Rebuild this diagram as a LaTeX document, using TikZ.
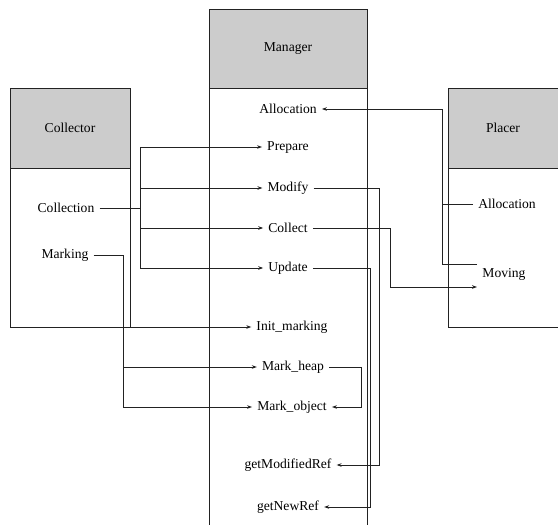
\documentclass[tikz,border=0pt]{standalone}
\usepackage{fontspec}
\setmainfont{Liberation Serif}
\newfontfamily\lblfont{Liberation Serif}
\usetikzlibrary{arrows.meta}

\definecolor{hdrgray}{HTML}{CCCCCC}
\definecolor{linegray}{HTML}{222222}

\begin{document}
\begin{tikzpicture}[x=1pt,y=-1pt,
    ln/.style={draw=linegray,line width=0.9pt},
    lbl/.style={font=\lblfont\fontsize{13.6}{15}\selectfont,inner xsep=5pt,inner ysep=1pt},
    arr/.style={ln,-{Stealth[length=5pt,width=3.6pt]}}]
    \useasboundingbox (0,0) rectangle (558,525);
    % Manager
    \draw[ln,fill=hdrgray] (209,9) rectangle (367,88);
    \draw[ln] (209,88) -- (209,525);
    \draw[ln] (367,88) -- (367,525);
    \node[lbl] (mgr) at (288,49) {Manager};
    % Collector
    \draw[ln,fill=hdrgray] (10,88) rectangle (130,168);
    \draw[ln] (10,168) -- (10,327);
    \draw[ln] (130,168) -- (130,327);
    \coordinate (colcorner) at (10,327);
    \node[lbl] (col) at (70,128) {Collector};
    % Placer
    \fill[hdrgray] (448,88) rectangle (560,168);
    \draw[ln] (560,88) -- (448,88) -- (448,327) -- (560,327);
    \draw[ln] (448,168) -- (560,168);
    \node[lbl] (plc) at (503,128) {Placer};

    \node[lbl] (collection) at (66,208) {Collection};
    \node[lbl] (marking) at (65,255) {Marking};
    \node[lbl] (palloc) at (507,204) {Allocation};
    \node[lbl] (moving) at (504,274) {Moving};

    \node[lbl] (malloc) at (288,109) {Allocation};
    \node[lbl] (prepare) at (288,147) {Prepare};
    \node[lbl] (modify) at (288,188) {Modify};
    \node[lbl] (collect) at (288,228) {Collect};
    \node[lbl] (update) at (288,268) {Update};
    \node[lbl] (initm) at (292,327) {Init\_marking};
    \node[lbl] (mheap) at (293,367) {Mark\_heap};
    \node[lbl] (mobj) at (292,407) {Mark\_object};
    \node[lbl] (getmod) at (288,465) {getModifiedRef};
    \node[lbl] (getnew) at (288,507) {getNewRef};

    % collection bus
    \coordinate (cbus) at (140,208);
    \draw[ln] (collection.east) -- (cbus);
    \draw[arr] (cbus) |- (prepare.west);
    \draw[arr] (cbus) |- (modify.west);
    \draw[arr] (cbus) |- (collect.west);
    \draw[arr] (cbus) |- (update.west);
    \draw[arr] (colcorner) -- (initm.west);

    % marking bus
    \coordinate (mbus) at (123,255);
    \draw[ln] (marking.east) -- (mbus);
    \draw[arr] (mbus) |- (mheap.west);
    \draw[arr] (mbus) |- (mobj.west);
    \draw[arr] (mheap.east) -- (361,367) |- (mobj.east);

    % right hand returns
    \draw[arr] (modify.east) -- (379,188) |- (getmod.east);
    \draw[arr] (update.east) -- (370,268) |- (getnew.east);
    \coordinate (movein) at (477,287);
    \draw[arr] (collect.east) -- (390,228) |- (movein);

    % placer side
    \coordinate (movout) at (477,264);
    \draw[arr] (movout) -- (442,264) |- (malloc.east);
    \draw[ln] (palloc.west) -- (442,204);
\end{tikzpicture}
\end{document}
